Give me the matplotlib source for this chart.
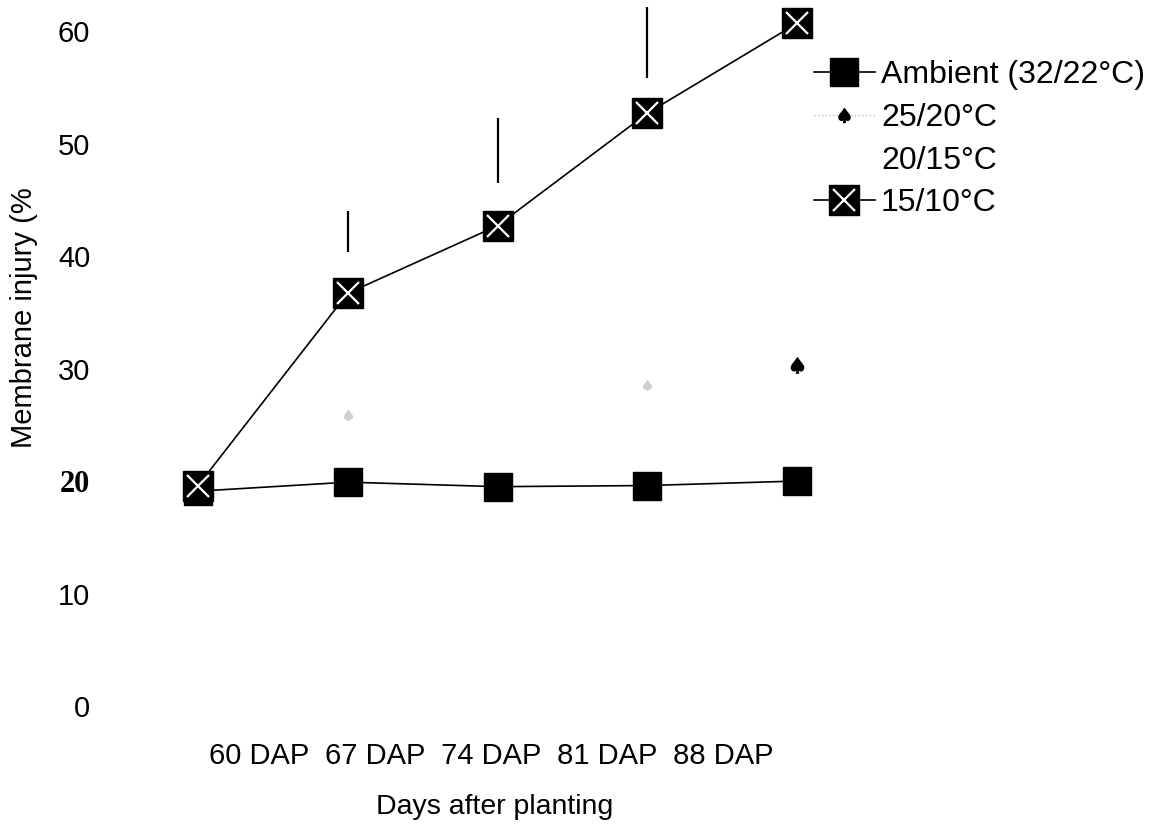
import numpy as np
import matplotlib.pyplot as plt
from matplotlib.lines import Line2D
from matplotlib.legend_handler import HandlerTuple

plt.rcParams['font.family'] = ['Liberation Sans', 'DejaVu Sans']

# --- data ---
days = ['60 DAP', '67 DAP', '74 DAP', '81 DAP', '88 DAP']
ambient = [19.1, 19.9, 19.5, 19.6, 20.0]
temp_25_20 = [np.nan, 25.9, np.nan, 28.5, 30.3]
temp_15_10 = [19.6, 36.7, 42.7, 52.7, 60.7]
# upper bars drawn over the 15/10 curve
bar_days = ['67 DAP', '74 DAP', '81 DAP']
bar_low = [40.4, 46.5, 55.8]
bar_high = [44.0, 52.3, 62.1]
y_ticks = [0, 10, 20, 30, 40, 50, 60]

fig = plt.figure(figsize=(11.64, 8.27), dpi=100)
ax = fig.add_axes([0.1289, 0.1191, 0.5756, 0.8773])
x = np.arange(len(days))

# Ambient
amb_line, = ax.plot(x, ambient, color='black', lw=1.2, marker='s', ms=20, zorder=3)

# 25/20 (mostly faded in the scan)
ax.plot(x, temp_25_20, ls='none', marker=r'$\spadesuit$', ms=7, color='#cfcfcf', zorder=2)
ax.plot(x[-1], temp_25_20[-1], ls='none', marker=r'$\spadesuit$', ms=11, color='black', zorder=2)

# 15/10 : black square with white cross
cold_sq, = ax.plot(x, temp_15_10, color='black', lw=1.2, marker='s', ms=21, zorder=4)
cold_x, = ax.plot(x, temp_15_10, ls='none', marker='x', ms=16, mew=1.6, color='white', zorder=5)

bx = [days.index(d) for d in bar_days]
ax.vlines(bx, bar_low, bar_high, color='black', lw=1.6, zorder=3)

ax.set_xlim(-0.3205, 4.153)
ax.set_ylim(-2, 62.5)
for s in ax.spines.values():
    s.set_visible(False)
ax.set_xticks([])
ax.set_yticks(y_ticks)
ax.set_yticklabels([str(t) for t in y_ticks])
ax.tick_params(axis='y', length=0, pad=43, labelsize=21)
for lbl in ax.get_yticklabels():
    if lbl.get_text() == '20':
        lbl.set_fontfamily('Liberation Serif')
        lbl.set_fontweight('bold')
        lbl.set_fontsize(22)

fig.text(24 / 1164, 1 - 318 / 827, 'Membrane injury (%', rotation=90,
         ha='center', va='center', fontsize=21)
fig.text(491 / 1164, 1 - 756 / 827, '  '.join(days), ha='center', va='center', fontsize=21)
fig.text(495 / 1164, 1 - 807 / 827, 'Days after planting', ha='center', va='center', fontsize=20.5)

# legend
h25 = Line2D([], [], color='#bbbbbb', ls=':', lw=1, marker=r'$\spadesuit$', ms=10,
             markerfacecolor='black', markeredgecolor='black')
h20 = Line2D([], [], color='none', ls='none')
ax.legend([amb_line, h25, h20, (cold_sq, cold_x)],
          ['Ambient (32/22°C)', '25/20°C', '20/15°C', '15/10°C'],
          handler_map={tuple: HandlerTuple(ndivide=1, pad=0)},
          loc='upper left', bbox_to_anchor=(814 / 1164, 1 - 60 / 827),
          bbox_transform=fig.transFigure, frameon=False, fontsize=23,
          handlelength=1.9, handletextpad=0.2, labelspacing=0.40,
          borderpad=0, borderaxespad=0, numpoints=1)

fig.savefig('out.png', dpi=100)
